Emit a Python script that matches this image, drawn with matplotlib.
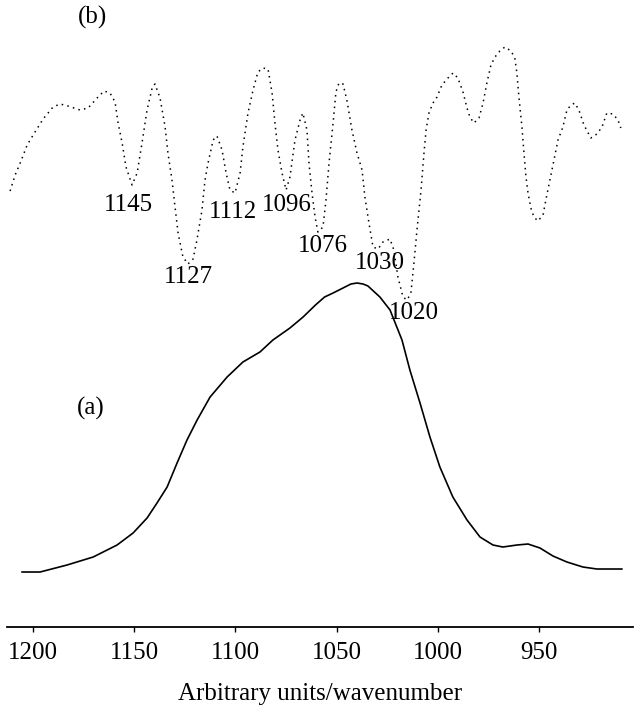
import matplotlib
matplotlib.use("Agg")
import matplotlib.pyplot as plt

plt.rcParams['font.family'] = ['Liberation Serif', 'DejaVu Serif']

# spectrum (a): absorbance profile, arbitrary units
wn_a = [1205.3, 1196.4, 1183.1, 1170.2, 1158.4, 1150.5, 1143.6, 1138.7, 1133.7,
        1128.8, 1123.9, 1118.9, 1112.5, 1104.1, 1096.3, 1087.9, 1081.5, 1073.1,
        1066.6, 1060.5, 1056.0, 1051.8, 1046.9, 1043.0, 1040.0, 1037.0, 1034.6,
        1028.7, 1023.7, 1017.8, 1013.9, 1008.9, 1004.0, 999.1, 992.7, 985.7, 979.3,
        972.9, 968.0, 961.1, 955.6, 949.7, 943.3, 936.4, 928.5, 921.6, 909.3]
int_a = [0.55, 0.55, 0.62, 0.70, 0.82, 0.94, 1.09, 1.24, 1.40,
         1.64, 1.87, 2.07, 2.30, 2.50, 2.65, 2.75, 2.87, 2.99,
         3.10, 3.22, 3.30, 3.34, 3.39, 3.43, 3.44, 3.43, 3.41,
         3.30, 3.17, 2.87, 2.57, 2.24, 1.90, 1.60, 1.30, 1.07, 0.90,
         0.82, 0.80, 0.82, 0.83, 0.79, 0.71, 0.65, 0.60, 0.58, 0.58]

# spectrum (b): second derivative, offset, arbitrary units
wn_b = [1211.2, 1208.7, 1205.8, 1202.8, 1198.9, 1194.9, 1190.0, 1186.5, 1182.6,
        1176.7, 1172.7, 1167.8, 1164.8, 1161.9, 1159.4, 1157.9, 1155.9, 1154.0,
        1151.0, 1148.5, 1146.1, 1143.6, 1141.1, 1139.7, 1137.2, 1134.7, 1133.3,
        1131.3, 1129.8, 1128.3, 1125.9, 1123.4, 1120.9, 1119.0, 1116.5, 1115.0,
        1113.5, 1111.0, 1109.1, 1106.6, 1104.6, 1102.7, 1100.2, 1097.7, 1096.3,
        1093.8, 1091.3, 1088.9, 1086.4, 1083.9, 1081.9, 1080.5, 1079.0, 1077.0,
        1075.0, 1073.1, 1070.6, 1068.1, 1066.7, 1064.7, 1063.7, 1062.2, 1060.7,
        1059.3, 1056.8, 1055.3, 1053.8, 1051.8, 1050.4, 1048.9, 1046.9, 1045.0,
        1042.5, 1040.0, 1037.5, 1036.1, 1034.1, 1032.1, 1029.6, 1027.2, 1023.7,
        1021.8, 1019.8, 1017.3, 1015.3, 1013.4, 1011.9, 1010.4, 1008.4, 1006.9,
        1005.9, 1004.5, 1002.5, 1000.5, 998.1, 995.1, 992.6, 990.2, 987.7,
        985.7, 984.3, 982.3, 979.8, 977.8, 975.9, 973.9, 971.9, 969.5,
        967.0, 964.0, 962.1, 961.1, 960.1, 958.6, 957.6, 956.6, 955.6,
        954.2, 952.7, 950.7, 948.2, 946.8, 944.8, 942.8, 940.8, 938.4,
        936.4, 934.4, 932.5, 930.5, 928.0, 924.6, 921.6, 919.1, 916.7,
        913.7, 911.2, 909.8]
int_b = [4.36, 4.52, 4.66, 4.82, 4.95, 5.08, 5.20, 5.23, 5.21,
         5.17, 5.19, 5.30, 5.36, 5.34, 5.25, 5.04, 4.84, 4.60,
         4.42, 4.54, 4.84, 5.17, 5.39, 5.43, 5.29, 5.00, 4.74,
         4.47, 4.20, 3.94, 3.70, 3.63, 3.68, 3.87, 4.17, 4.47,
         4.64, 4.87, 4.91, 4.77, 4.54, 4.37, 4.34, 4.54, 4.80,
         5.14, 5.37, 5.55, 5.59, 5.58, 5.34, 5.04, 4.77, 4.54,
         4.37, 4.50, 4.87, 5.07, 5.14, 4.97, 4.64, 4.34, 4.10,
         3.95, 4.00, 4.27, 4.64, 5.04, 5.35, 5.44, 5.43, 5.27,
         4.97, 4.74, 4.57, 4.30, 4.04, 3.80, 3.78, 3.85, 3.88,
         3.77, 3.50, 3.30, 3.27, 3.34, 3.64, 3.97, 4.37, 4.75,
         4.97, 5.14, 5.24, 5.30, 5.42, 5.49, 5.54, 5.49, 5.35,
         5.19, 5.10, 5.04, 5.09, 5.24, 5.44, 5.62, 5.70, 5.76,
         5.80, 5.76, 5.69, 5.54, 5.30, 5.00, 4.74, 4.50, 4.34,
         4.19, 4.10, 4.06, 4.12, 4.27, 4.47, 4.67, 4.87, 5.00,
         5.17, 5.22, 5.24, 5.17, 5.02, 4.89, 4.93, 5.00, 5.14,
         5.13, 5.07, 4.99]

# band labels on (b)
band_text = ['1145', '1127', '1112', '1096', '1076', '1030', '1020']
band_x = [1153.0, 1123.4, 1101.2, 1074.5, 1056.8, 1028.7, 1011.9]
band_y = [4.22, 3.50, 4.15, 4.22, 3.81, 3.64, 3.14]

ticks = [1200, 1150, 1100, 1050, 1000, 950]
fs = 18

fig = plt.figure(figsize=(6.41, 7.13), dpi=100)
ax = fig.add_axes([0.011, 0.1206, 0.9765, 0.8794])

ax.plot(wn_a, int_a, color='black', lw=1.2, solid_joinstyle='round')
ax.plot(wn_b, int_b, color='black', lw=1.1, linestyle=(0, (1, 2.8)))

for t, x, y in zip(band_text, band_x, band_y):
    ax.text(x, y, t, fontsize=fs, ha='center', va='center')
ax.text(1170.7, 6.10, '(b)', fontsize=fs, ha='center', va='center')
ax.text(1171.2, 2.19, '(a)', fontsize=fs, ha='center', va='center')

ax.set_xlim(1212.7, 903.8)
ax.set_ylim(0, 6.27)
ax.set_xticks(ticks)
ax.set_yticks([])
for s in ['top', 'left', 'right']:
    ax.spines[s].set_visible(False)
ax.spines['bottom'].set_linewidth(1.3)
ax.tick_params(axis='x', direction='out', length=3.5, width=1.0, pad=7, labelsize=fs)
ax.set_xlabel('Arbitrary units/wavenumber', fontsize=fs, labelpad=14)

fig.savefig('out.png', dpi=100)
